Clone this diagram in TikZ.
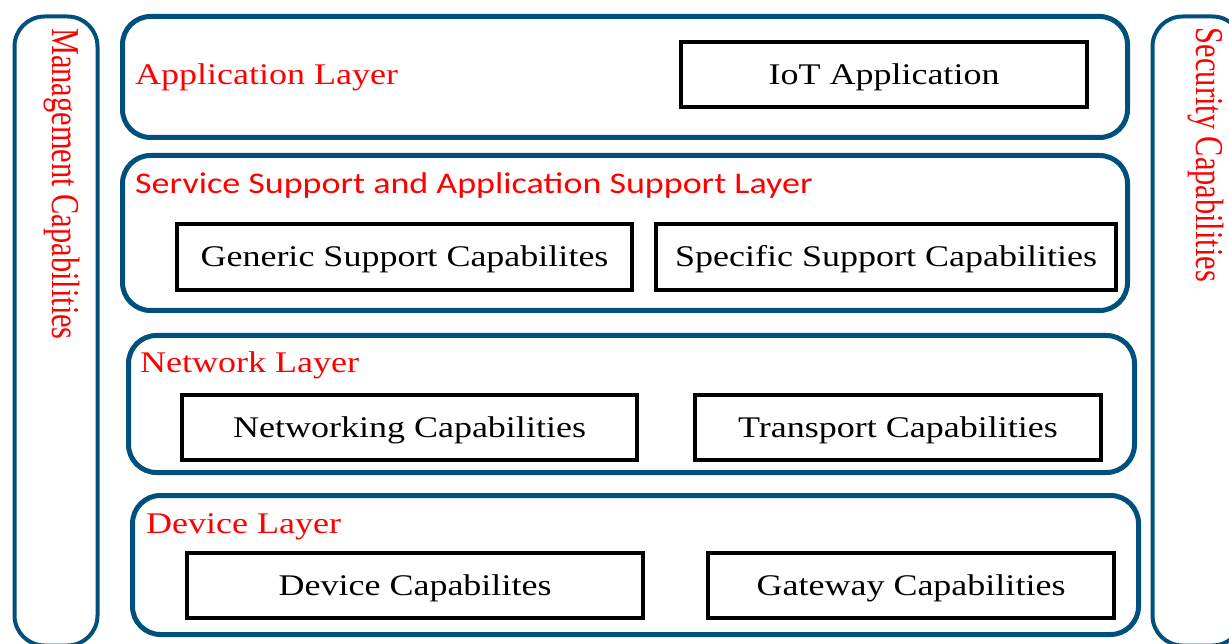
\documentclass[tikz,border=0pt]{standalone}
\usepackage{fontspec}
\setmainfont{Liberation Serif}
\newfontfamily\boxfont[FakeStretch=1.2]{Liberation Serif}
\newfontfamily\svcfont[FakeStretch=1.2]{Carlito}
\newfontfamily\sidefont{Liberation Serif}
\definecolor{layerblue}{RGB}{0,80,125}
\tikzset{
  layer/.style={draw=layerblue, line width=5pt, rounded corners=28pt, inner sep=0pt},
  sidebar/.style={draw=layerblue, line width=4pt, rounded corners=30pt, inner sep=0pt},
  capbox/.style={draw=black, line width=3.5pt, inner sep=0pt, text height=20pt, text depth=0pt, font=\boxfont\fontsize{30}{34}\selectfont},
  layerlabel/.style={text=red, inner sep=0pt, anchor=base west, font=\boxfont\fontsize{30}{34}\selectfont},
  sidelabel/.style={text=red, inner sep=0pt, xscale=1.3, rotate=-90, font=\sidefont\fontsize{30.4}{34}\selectfont}
}
\begin{document}
\begin{tikzpicture}[x=1pt,y=-1pt]
\useasboundingbox (0,0) rectangle (1229,644);
\clip (0,0) rectangle (1229,644);
\node[sidebar, minimum width=83pt, minimum height=629pt] (mgmt) at (56,331) {};
\node[sidebar, minimum width=90pt, minimum height=629pt] (sec) at (1197.5,331) {};
\node[sidelabel] (mgmtlbl) at (62,184) {Management Capabilities};
\node[sidelabel] (seclbl) at (1206,155) {Security Capabilities};
\node[layer, minimum width=1005pt, minimum height=121pt] (app) at (625,77) {};
\node[layer, minimum width=1005pt, minimum height=155pt] (svc) at (625,233) {};
\node[layer, minimum width=1006pt, minimum height=137pt] (net) at (631.5,404) {};
\node[layer, minimum width=1006pt, minimum height=139pt] (dev) at (635.5,565) {};
\node[layerlabel] (applbl) at (135,85) {Application Layer};
\node[layerlabel, font=\svcfont\fontsize{30}{34}\selectfont] (svclbl) at (135,194) {Service Support and Application Support Layer};
\node[layerlabel] (netlbl) at (140,372) {Network Layer};
\node[layerlabel] (devlbl) at (146,533) {Device Layer};
\node[capbox, minimum width=406pt, minimum height=65pt] (iot) at (884,74.5) {IoT Application};
\node[capbox, minimum width=455pt, minimum height=66pt] (generic) at (404.5,257) {Generic Support Capabilites};
\node[capbox, minimum width=460pt, minimum height=66pt] (specific) at (886,257) {Specific Support Capabilities};
\node[capbox, minimum width=455pt, minimum height=65pt] (networking) at (409.5,427.5) {Networking Capabilities};
\node[capbox, minimum width=406pt, minimum height=65pt] (transport) at (898,427.5) {Transport Capabilities};
\node[capbox, minimum width=456pt, minimum height=65pt] (devcap) at (415,585.5) {Device Capabilites};
\node[capbox, minimum width=406pt, minimum height=65pt] (gateway) at (911,585.5) {Gateway Capabilities};
\end{tikzpicture}
\end{document}
